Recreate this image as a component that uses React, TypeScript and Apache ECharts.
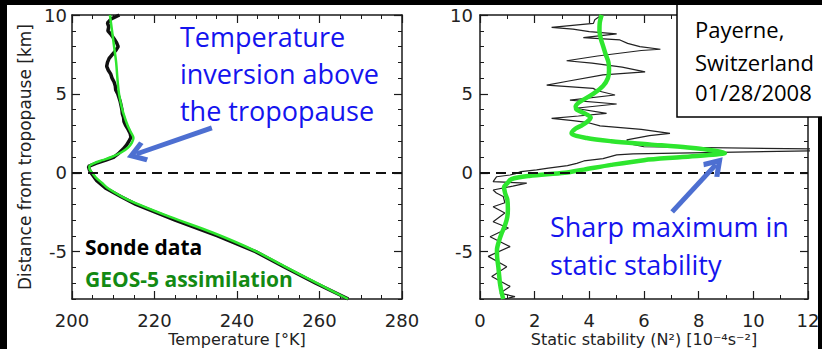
import React, { useEffect, useRef } from "react";
import * as echarts from "echarts";

// ---------- data ----------
const heightMajorTicks = [-5, 0, 5, 10];

// Left panel: temperature profiles (K) vs distance from tropopause (km)
const geosTempHeights = [10, 9, 8, 7, 6, 5, 4, 3.5, 3, 2.6, 2.2, 1.9, 1.6, 1.3, 1.0, 0.8, 0.6, 0.4, 0.2, 0, -0.3, -0.65, -1, -1.7, -2.8, -3.8, -4.9, -6, -7, -8];
const geosTemp = [209.2, 209.7, 210.2, 210.7, 211.0, 211.4, 212.2, 212.8, 213.5, 214.2, 214.9, 214.5, 213.6, 212.0, 209.6, 207.4, 205.3, 204.2, 204.3, 204.9, 205.8, 207.3, 208.8, 213.5, 223.8, 234.2, 244.0, 252.0, 259.4, 266.9];

const sondeTempHeights = [10, 9.75, 9.5, 9.25, 9, 8.75, 8.5, 8.25, 8, 7.75, 7.5, 7.25, 7, 6.75, 6.5, 6.25, 6, 5.75, 5.5, 5.25, 5, 4.75, 4.5, 4.25, 4, 3.75, 3.5, 3.25, 3, 2.75, 2.5, 2.25, 2, 1.75, 1.5, 1.25, 1, 0.8, 0.6, 0.4, 0.2, 0, -0.5, -1, -1.5, -2, -3, -4, -5, -6, -7, -8];
const sondeTemp = [211.5, 209.5, 208.6, 208.9, 208.7, 209.5, 210.2, 210.8, 211.2, 210.6, 209.8, 209.0, 208.6, 208.4, 208.8, 209.4, 209.7, 210.2, 210.5, 210.6, 211.1, 211.4, 211.7, 211.9, 212.1, 212.2, 212.5, 212.6, 213.0, 213.6, 214.1, 214.3, 213.8, 213.2, 212.4, 211.4, 210.2, 208.2, 205.8, 204.0, 204.2, 204.6, 206.0, 208.3, 211.8, 215.5, 225.0, 235.3, 244.5, 251.7, 259.1, 267.0];

// Right panel: static stability N^2 (1e-4 s^-2) vs distance from tropopause (km)
const geosStabHeights = [10, 9.5, 9, 8.5, 8, 7.5, 7, 6.5, 6, 5.5, 5, 4.5, 4.2, 4, 3.7, 3.5, 3.2, 3, 2.8, 2.5, 2.2, 2.0, 1.8, 1.6, 1.4, 1.25, 1.0, 0.8, 0.5, 0.2, 0, -0.2, -0.4, -0.7, -0.9, -1.3, -1.7, -2.3, -2.8, -3.3, -3.8, -4.3, -4.9, -5.4, -5.95, -6.5, -7, -7.5, -8];
const geosStab = [4.45, 4.38, 4.37, 4.42, 4.51, 4.6, 4.7, 4.72, 4.68, 4.5, 4.14, 3.66, 3.5, 3.54, 3.9, 4.05, 3.9, 3.72, 3.5, 3.35, 3.9, 4.8, 6.2, 7.6, 8.6, 8.96, 7.4, 6.0, 4.8, 3.8, 3.1, 1.8, 1.15, 0.98, 0.88, 0.92, 1.0, 1.02, 1.0, 0.92, 0.8, 0.7, 0.62, 0.63, 0.67, 0.7, 0.73, 0.78, 0.85];

const sondeStabHeights = [10, 9.7, 9.47, 9.22, 9.1, 8.95, 8.8, 8.56, 8.42, 8.2, 8.0, 7.83, 7.75, 7.4, 7.1, 6.95, 6.7, 6.4, 6.2, 5.8, 5.56, 5.35, 5.2, 4.93, 4.61, 4.36, 4.09, 3.77, 3.6, 3.45, 3.3, 3.2, 2.97, 2.75, 2.5, 2.35, 2.08, 1.83, 1.65, 1.5, 1.4, 1.2, 1.13, 0.9, 0.75, 0.6, 0.45, 0.3, 0.18, 0.07, -0.05, -0.14, -0.25, -0.56, -0.66, -0.85, -1.09, -1.28, -1.5, -1.9, -2.15, -2.55, -3.1, -3.5, -4.05, -4.68, -5.3, -5.95, -6.58, -7.2, -7.63, -7.85, -8];
const sondeStab = [4.45, 4.2, 4.15, 2.62, 3.4, 4.0, 5.0, 3.78, 5.12, 5.4, 5.85, 6.6, 5.9, 4.3, 3.17, 4.1, 5.2, 6.04, 4.5, 3.2, 2.44, 4.14, 4.3, 4.94, 3.29, 5.0, 3.48, 4.63, 3.6, 2.62, 3.4, 3.9, 4.39, 5.9, 6.95, 6.2, 5.37, 5.49, 6.0, 12.5, 12.5, 5.6, 5.0, 4.5, 3.8, 3.54, 3.2, 2.5, 2.07, 1.5, 1.3, 1.1, 0.61, 0.48, 1.71, 1.2, 0.48, 0.6, 0.85, 0.91, 0.48, 0.91, 0.48, 1.04, 0.37, 1.1, 0.3, 0.98, 0.43, 1.1, 0.73, 1.28, 0.9];

// Annotation arrows (data coordinates: [x, height])
const tempArrow = [[233.9, 2.84], [215.6, 1.19]];
const stabArrow = [[7.03, -2.48], [8.63, 0.52]];

// ---------- styles ----------
const AX = "#1a1a1a";
const TICK_FONT = { fontFamily: "DejaVu Sans", fontSize: 18, color: "#222" };
const NAME_FONT = { fontFamily: "DejaVu Sans", fontSize: 17, color: "#222" };
const XNAME_FONT = { fontFamily: "DejaVu Sans", fontSize: 16, color: "#222", lineHeight: 18 };
const BLUE = "#1414ee";
const ARROW = "#4d6fd1";
const GREEN = "#2ee62e";
const CHEVRON = "path://M50 0 L100 72 L82 86 L50 40 L18 86 L0 72 Z";

const pairs = (xs: number[], hs: number[]) => hs.map((h, i) => [xs[i], h]);

function xAxes(grid: number, min: number, max: number, interval: number, minorSplit: number, name: string) {
  const base: any = {
    type: "value",
    gridIndex: grid,
    min,
    max,
    interval,
    axisLine: { show: true, onZero: false, lineStyle: { color: AX, width: 1.5 } },
    axisTick: { show: true, inside: true, length: 8, lineStyle: { color: AX, width: 1.2 } },
    minorTick: { show: true, splitNumber: minorSplit, length: 4, lineStyle: { color: AX, width: 1 } },
    splitLine: { show: false },
    minorSplitLine: { show: false },
  };
  return [
    {
      ...base,
      position: "bottom",
      axisLabel: { ...TICK_FONT, margin: 12 },
      name,
      nameLocation: "middle",
      nameGap: 31,
      nameMoveOverlap: false,
      nameTextStyle: XNAME_FONT,
    },
    { ...base, position: "top", axisLabel: { show: false } },
  ];
}

function yAxes(grid: number, labelMargin: number, name?: string) {
  const base: any = { type: "value", gridIndex: grid, min: -8, max: 10, splitLine: { show: false } };
  const minor: any = {
    ...base,
    interval: 1,
    axisLine: { show: true, onZero: false, lineStyle: { color: AX, width: 1.5 } },
    axisTick: { show: true, inside: true, length: 4, lineStyle: { color: AX, width: 1 } },
  };
  const major: any = {
    ...base,
    axisLine: { show: false, onZero: false },
    axisTick: { show: true, inside: true, length: 8, customValues: heightMajorTicks, lineStyle: { color: AX, width: 1.2 } },
    axisLabel: { show: false },
  };
  const left: any = {
    ...minor,
    position: "left",
    axisLabel: {
      ...TICK_FONT,
      margin: labelMargin,
      formatter: (v: number) => (Math.round(v) % 5 === 0 ? String(Math.round(v)) : ""),
    },
  };
  if (name) {
    left.name = name;
    left.nameLocation = "middle";
    left.nameGap = 39;
    left.nameTextStyle = NAME_FONT;
  }
  return [
    left,
    { ...major, position: "left" },
    { ...minor, position: "right", axisLabel: { show: false } },
    { ...major, position: "right" },
  ];
}

function textEl(text: string, x: number, y: number, font: string, fill: string) {
  return {
    type: "text",
    x,
    y,
    z: 190,
    silent: true,
    style: { text, font, fill, align: "left", verticalAlign: "middle" },
  };
}

export default function App() {
  const ref = useRef<HTMLDivElement>(null);

  useEffect(() => {
    if (!ref.current) return;
    const chart = echarts.init(ref.current, undefined, { renderer: "svg" });

    const zeroLine = {
      silent: true,
      symbol: ["none", "none"],
      label: { show: false },
      lineStyle: { type: [10, 6], width: 2, color: "#111" },
      data: [{ yAxis: 0 }],
    };
    const arrowLine = (pts: number[][]) => ({
      silent: true,
      label: { show: false },
      symbol: ["none", CHEVRON],
      symbolSize: [22, 20],
      lineStyle: { type: "solid", width: 5, color: ARROW },
      itemStyle: { color: ARROW },
      data: [[{ coord: pts[0] }, { coord: pts[1] }]],
    });

    const option: any = {
      animation: false,
      backgroundColor: "#ffffff",
      grid: [
        { left: 72, top: 15, width: 330, height: 284, containLabel: false, outerBoundsMode: "none" },
        { left: 480, top: 15, width: 328, height: 284, containLabel: false, outerBoundsMode: "none" },
      ],
      xAxis: [
        ...xAxes(0, 200, 280, 20, 4, "Temperature [°K]"),
        ...xAxes(1, 0, 12, 2, 2, "Static stability (N²) [10⁻⁴s⁻²]"),
      ],
      yAxis: [...yAxes(0, 5, "Distance from tropopause [km]"), ...yAxes(1, 7)],
      series: [
        {
          type: "line",
          name: "Sonde data",
          xAxisIndex: 0,
          yAxisIndex: 0,
          data: pairs(sondeTemp, sondeTempHeights),
          showSymbol: false,
          lineStyle: { color: "#111", width: 3.5 },
          z: 3,
          markLine: zeroLine,
        },
        {
          type: "line",
          name: "GEOS-5 assimilation",
          xAxisIndex: 0,
          yAxisIndex: 0,
          data: pairs(geosTemp, geosTempHeights),
          showSymbol: false,
          smooth: 0.3,
          lineStyle: { color: GREEN, width: 2.5 },
          z: 4,
          markLine: arrowLine(tempArrow),
        },
        {
          type: "line",
          name: "Sonde data",
          xAxisIndex: 2,
          yAxisIndex: 4,
          data: pairs(sondeStab, sondeStabHeights),
          showSymbol: false,
          lineStyle: { color: "#222", width: 1.2 },
          z: 3,
          markLine: zeroLine,
        },
        {
          type: "line",
          name: "GEOS-5 assimilation",
          xAxisIndex: 2,
          yAxisIndex: 4,
          data: pairs(geosStab, geosStabHeights),
          showSymbol: false,
          smooth: 0.3,
          lineStyle: { color: GREEN, width: 4.5 },
          z: 4,
          markLine: arrowLine(stabArrow),
        },
      ],
      graphic: [
        { type: "rect", z: 150, silent: true, shape: { x: 818, y: 0, width: 4, height: 349 }, style: { fill: "#000" } },
        { type: "rect", z: 180, silent: true, shape: { x: 677, y: 4, width: 170, height: 113 }, style: { fill: "#fff", stroke: "#000", lineWidth: 1.5 } },
        { type: "rect", z: 200, silent: true, shape: { x: 0, y: 0, width: 822, height: 5 }, style: { fill: "#000" } },
        { type: "rect", z: 200, silent: true, shape: { x: 0, y: 0, width: 7, height: 349 }, style: { fill: "#000" } },
        textEl("Payerne,", 695, 28.5, '22px "Open Sans"', "#000"),
        textEl("Switzerland", 695, 61.5, '22px "Open Sans"', "#000"),
        textEl("01/28/2008", 695, 91.5, '22px "Open Sans"', "#000"),
        textEl("Temperature", 180, 36.5, '27px "Open Sans"', BLUE),
        textEl("inversion above", 180, 73.5, '27px "Open Sans"', BLUE),
        textEl("the tropopause", 180, 110.5, '27px "Open Sans"', BLUE),
        textEl("Sharp maximum in", 550, 226.5, '27px "Open Sans"', BLUE),
        textEl("static stability", 550, 264.5, '27px "Open Sans"', BLUE),
        textEl("Sonde data", 85, 246.9, 'bold 21px "Open Sans"', "#000"),
        textEl("GEOS-5 assimilation", 85, 278.9, 'bold 21px "Open Sans"', "#138a13"),
      ],
    };

    chart.setOption(option);
    return () => chart.dispose();
  }, []);

  return (
    <div
      ref={ref}
      style={{ position: "fixed", left: 0, top: 0, width: 822, height: 349, background: "#fff" }}
    />
  );
}
